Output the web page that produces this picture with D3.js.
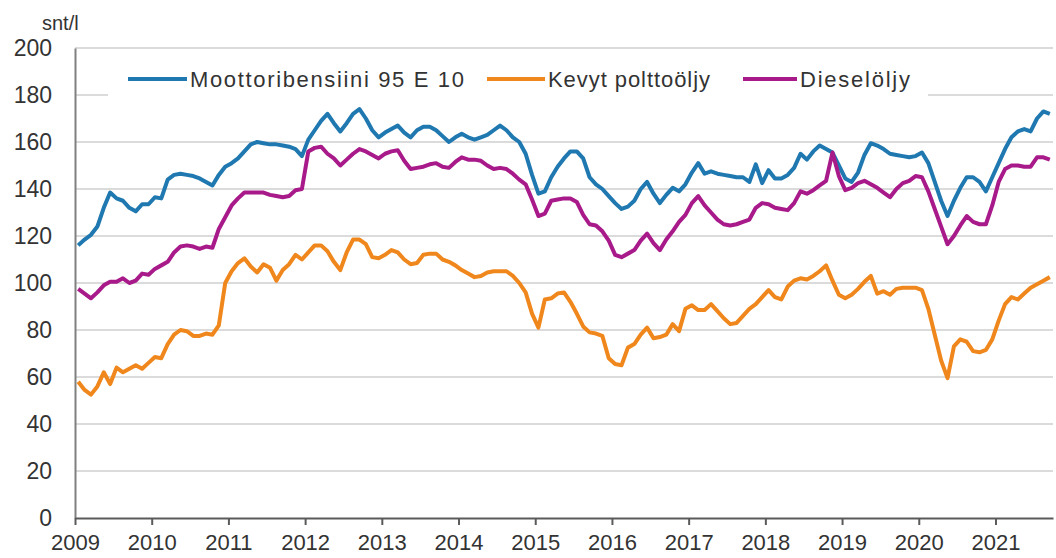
<!DOCTYPE html>
<html>
<head>
<meta charset="utf-8">
<script src="https://cdn.jsdelivr.net/npm/d3@7"></script>
<style>
  body { margin: 0; background: #fff; }
  svg { display: block; font-family: "Liberation Sans", Arial, sans-serif; }
</style>
</head>
<body>
<svg></svg>
<script>
// monthly prices, snt/l, Jan 2009 - Sep 2021
var years = [2009, 2010, 2011, 2012, 2013, 2014, 2015, 2016, 2017, 2018, 2019, 2020, 2021];
var yTicks = [0, 20, 40, 60, 80, 100, 120, 140, 160, 180, 200];

var bensiini = [
  116, 118.5, 120.5, 124, 132, 138.5, 136, 135, 132, 130.5, 133.5, 133.5,
  136.5, 136, 144, 146, 146.5, 146, 145.5, 144.5, 143, 141.5, 146, 149.5,
  151, 153, 156, 159, 160, 159.5, 159, 159, 158.5, 158, 157, 154,
  161, 165, 169, 172, 168, 164.5, 168, 172, 174, 170, 165, 162,
  164, 165.5, 167, 164, 162, 165, 166.5, 166.5, 165, 162.5, 160, 162,
  163.5, 162, 161, 162, 163, 165, 167, 165, 162, 160, 155, 146,
  138, 139, 145, 149.5, 153, 156, 156, 153, 145, 142, 140, 137,
  134, 131.5, 132.5, 135, 140, 143, 138, 134, 137.5, 140.5, 139, 142,
  147, 151, 146.5, 147.5, 146.5, 146, 145.5, 145, 145, 143, 150.5, 142.5,
  148, 144.5, 144.5, 146, 149, 155, 152.5, 156, 158.5, 157, 155.5, 150,
  144.5, 143, 147, 154.5, 159.5, 158.5, 157, 155, 154.5, 154, 153.5, 154,
  155.5, 151, 143, 135, 128.5, 135, 140.5, 145, 145, 143, 139, 145,
  151, 157, 162, 164.5, 165.5, 164.5, 170, 173, 172
];

var polttooljy = [
  58, 54.5, 52.5, 56, 62, 57, 64, 62, 63.5, 65, 63.5, 66,
  68.5, 68, 74, 78, 80, 79.5, 77.5, 77.5, 78.5, 78, 82, 100,
  105, 108.5, 110.5, 107, 104.5, 108, 106.5, 101, 105.5, 108, 112, 110,
  113, 116, 116, 113.5, 109, 105.5, 113, 118.5, 118.5, 116.5, 111, 110.5,
  112, 114, 113, 110, 108, 108.5, 112, 112.5, 112.5, 110, 109, 107.5,
  105.5, 104, 102.5, 103, 104.5, 105, 105, 105, 103, 100, 96, 87,
  81, 93, 93.5, 95.5, 96, 92, 87, 81.5, 79, 78.5, 77.5, 68,
  65.5, 65, 72.5, 74, 78, 81, 76.5, 77, 78, 82.5, 79.5, 89,
  90.5, 88.5, 88.5, 91, 88, 85, 82.5, 83, 86, 89, 91, 94,
  97, 94, 93, 98.5, 101, 102, 101.5, 103, 105, 107.5, 101, 95,
  93.5, 95, 97.5, 100.5, 103, 95.5, 96.5, 95, 97.5, 98, 98, 98,
  97, 89, 78, 67, 59.5, 73, 76, 75, 71, 70.5, 71.5, 76,
  84, 91, 94, 93, 95.5, 98, 99.5, 101, 102.5
];

var diesel = [
  97.5, 95.5, 93.5, 96, 99, 100.5, 100.5, 102, 100, 101, 104, 103.5,
  106, 107.5, 109, 113, 115.5, 116, 115.5, 114.5, 115.5, 115, 123, 128,
  133, 136, 138.5, 138.5, 138.5, 138.5, 137.5, 137, 136.5, 137, 139.5, 140,
  156, 157.5, 158, 155, 153, 150, 152.5, 155, 157, 156, 154.5, 153,
  155, 156, 156.5, 152, 148.5, 149, 149.5, 150.5, 151, 149.5, 149, 151.5,
  153.5, 152.5, 152.5, 152, 150, 148.5, 149, 148.5, 146.5, 144, 142, 135.5,
  128.5, 129.5, 135, 135.5, 136, 136, 134.5, 129, 125, 124.5, 122, 118,
  112, 111, 112.5, 114, 118, 121, 117, 114, 118.5, 122, 126, 129,
  134, 137, 133, 130, 127, 125, 124.5, 125, 126, 127, 132, 134,
  133.5, 132, 131.5, 131, 134, 139, 138, 139.5, 141.5, 143.5, 155.5, 145.5,
  139.5, 140.5, 142.5, 143.5, 142, 140.5, 138.5, 136.5, 140, 142.5, 143.5, 145.5,
  145, 139, 131.5, 124, 116.5, 120, 124.5, 128.5, 126, 125, 125, 133,
  143, 148.5, 150, 150, 149.5, 149.5, 153.5, 153.5, 152.5
];

var series = [
  { name: 'Moottoribensiini 95 E 10', values: bensiini, color: '#1f78b0' },
  { name: 'Kevyt polttoöljy', values: polttooljy, color: '#f0871c' },
  { name: 'Dieselöljy', values: diesel, color: '#a8198a' }
];

var width = 1056;
var height = 558;
var svg = d3.select('svg')
              .attr('width', width)
              .attr('height', height);

var plotLeft = 75, plotRight = 1053, plotTop = 48, plotBottom = 518;

var x = d3.scaleLinear()
          .domain([0, bensiini.length])
          .range([plotLeft, plotRight]);
var y = d3.scaleLinear()
          .domain([0, 200])
          .range([plotBottom, plotTop]);

// gridlines
svg.append('g')
  .selectAll('line')
  .data(yTicks.filter(d => d > 0))
  .enter()
  .append('line')
    .attr('x1', plotLeft)
    .attr('x2', plotRight)
    .attr('y1', d => y(d))
    .attr('y2', d => y(d))
    .attr('stroke', '#cfcfcf')
    .attr('stroke-width', 1.6);

// y axis
var yAxis = svg.append('g')
    .attr('transform', `translate(${plotLeft},0)`)
    .call(d3.axisLeft(y).tickValues(yTicks).tickSize(0).tickPadding(23));
yAxis.select('.domain').attr('stroke', '#808080').attr('stroke-width', 2);
yAxis.selectAll('text')
    .attr('font-size', 23)
    .attr('fill', '#333')
    .attr('font-family', '"Liberation Sans", Arial, sans-serif');

// x axis
var xAxis = svg.append('g')
    .attr('transform', `translate(0,${plotBottom})`)
    .call(d3.axisBottom(x)
      .tickValues(years.map((d, i) => i * 12))
      .tickFormat((d, i) => years[i])
      .tickSizeInner(7)
      .tickSizeOuter(0)
      .tickPadding(9));
xAxis.select('.domain').attr('stroke', '#5a5a5a').attr('stroke-width', 2);
xAxis.selectAll('.tick line').attr('stroke', '#5a5a5a').attr('stroke-width', 2);
xAxis.selectAll('text')
    .attr('font-size', 22)
    .attr('fill', '#333')
    .attr('font-family', '"Liberation Sans", Arial, sans-serif');

// unit
svg.append('text')
    .attr('x', 42)
    .attr('y', 30)
    .attr('font-size', 20)
    .attr('fill', '#333')
    .text('snt/l');

// lines
var line = d3.line()
    .x((d, i) => x(i + 0.5))
    .y(d => y(d));

svg.append('g')
  .selectAll('path')
  .data(series)
  .enter()
  .append('path')
    .attr('d', d => line(d.values))
    .attr('fill', 'none')
    .attr('stroke', d => d.color)
    .attr('stroke-width', 4)
    .attr('stroke-linejoin', 'round');

// legend
svg.append('rect')
    .attr('x', 108)
    .attr('y', 60)
    .attr('width', 820)
    .attr('height', 40)
    .attr('fill', '#fff');

var legendPos = [
  { lx: 128, tx: 190, tw: 274 },
  { lx: 487, tx: 548, tw: 162 },
  { lx: 743, tx: 800, tw: 110 }
];

var legend = svg.append('g')
  .selectAll('g')
  .data(series)
  .enter()
  .append('g');

legend.append('line')
    .attr('x1', (d, i) => legendPos[i].lx)
    .attr('x2', (d, i) => legendPos[i].tx - 3)
    .attr('y1', 79)
    .attr('y2', 79)
    .attr('stroke', d => d.color)
    .attr('stroke-width', 4);

legend.append('text')
    .attr('x', (d, i) => legendPos[i].tx)
    .attr('y', 87)
    .attr('font-size', 22)
    .attr('fill', '#333')
    .attr('textLength', (d, i) => legendPos[i].tw)
    .attr('lengthAdjust', 'spacing')
    .text(d => d.name);
</script>
</body>
</html>
